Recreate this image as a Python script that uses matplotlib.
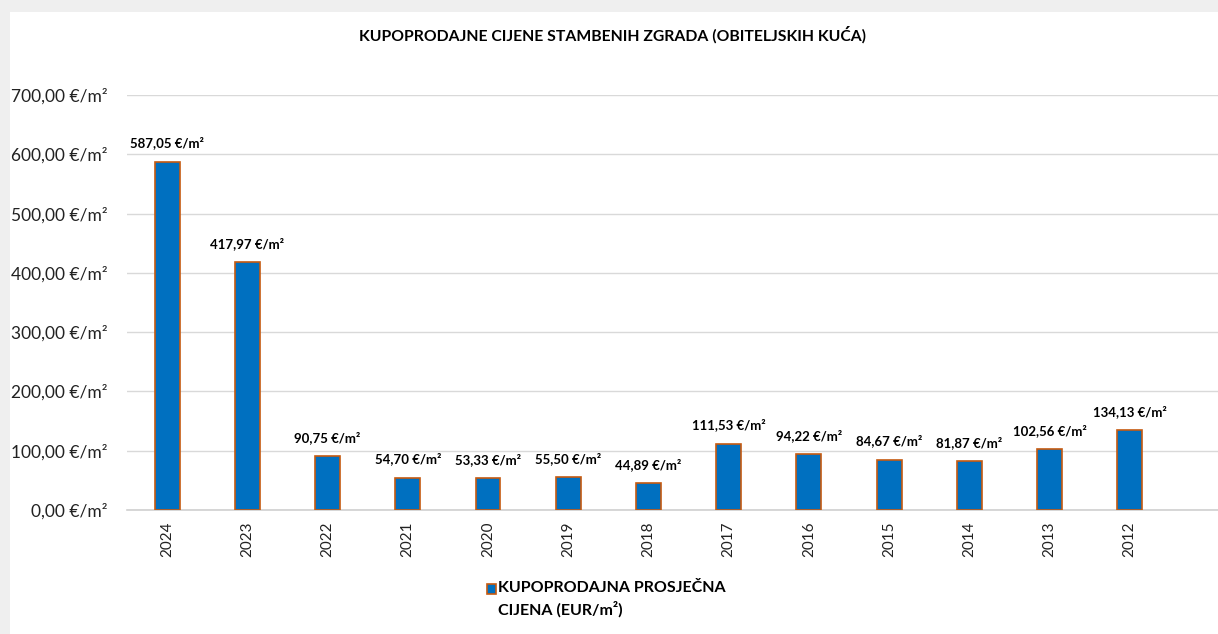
import matplotlib
matplotlib.use("Agg")
import matplotlib.pyplot as plt
import matplotlib.patches as mpatches

# Podaci
godine = ['2024', '2023', '2022', '2021', '2020', '2019', '2018',
          '2017', '2016', '2015', '2014', '2013', '2012']
cijene = [587.05, 417.97, 90.75, 54.70, 53.33, 55.50, 44.89,
          111.53, 94.22, 84.67, 81.87, 102.56, 134.13]
y_ticks = [0, 100, 200, 300, 400, 500, 600, 700]

naslov = 'KUPOPRODAJNE CIJENE STAMBENIH ZGRADA (OBITELJSKIH KUĆA)'
legenda = 'KUPOPRODAJNA PROSJEČNA\nCIJENA (EUR/m²)'

plt.rcParams['font.family'] = ['Lato', 'DejaVu Sans']

def fmt(v):
    return f'{v:.2f}'.replace('.', ',') + ' €/m²'

fig = plt.figure(figsize=(12.18, 6.34), dpi=100)
fig.patch.set_facecolor('white')

# sivi okvir (sjena) lijevo i gore
fig.add_artist(mpatches.Rectangle((0, 0), 10 / 1218, 1, transform=fig.transFigure,
                                  facecolor='#efefef', edgecolor='none', zorder=0))
fig.add_artist(mpatches.Rectangle((0, 1 - 12 / 634), 1, 12 / 634, transform=fig.transFigure,
                                  facecolor='#efefef', edgecolor='none', zorder=0))

ax = fig.add_axes([127 / 1218, 1 - 510 / 634, 1 - 127 / 1218, 415 / 634])
ax.set_facecolor('none')

x = list(range(len(godine)))
ax.bar(x, cijene, width=0.31, color='#0070C0', edgecolor='#C55A11', linewidth=1.2, zorder=3)

for xi, v in zip(x, cijene):
    ax.annotate(fmt(v), (xi, v), xytext=(0, 9), textcoords='offset points',
                ha='center', va='bottom', fontsize=9.5, fontweight='bold', color='black')

ax.set_xlim(-0.5, 13.1)
ax.set_ylim(0, 700)
ax.set_yticks(y_ticks)
ax.set_yticklabels([fmt(v) for v in y_ticks], fontsize=12.5, color='#222222')
ax.set_xticks(x)
ax.set_xticklabels(godine, rotation=90, fontsize=11, color='#222222')
ax.tick_params(axis='both', length=0)
ax.tick_params(axis='y', pad=14)
ax.tick_params(axis='x', pad=8)

ax.grid(axis='y', color='#d9d9d9', linewidth=1, zorder=0)
for s in ['top', 'right', 'left']:
    ax.spines[s].set_visible(False)
ax.spines['bottom'].set_color('#d0d0d0')
ax.spines['bottom'].set_linewidth(1.2)

fig.text(612 / 1218, 1 - 35 / 634, naslov, ha='center', va='center',
         fontsize=11.3, fontweight='bold', color='black')

# legenda
fig.add_artist(mpatches.Rectangle((487 / 1218, 1 - 594 / 634), 9 / 1218, 10 / 634,
                                  transform=fig.transFigure, facecolor='#0070C0',
                                  edgecolor='#C55A11', linewidth=1.2))
fig.text(498 / 1218, 1 - 581 / 634, legenda, ha='left', va='top', fontsize=11.5,
         fontweight='bold', color='black', linespacing=1.45)

fig.savefig('out.png', dpi=100)
